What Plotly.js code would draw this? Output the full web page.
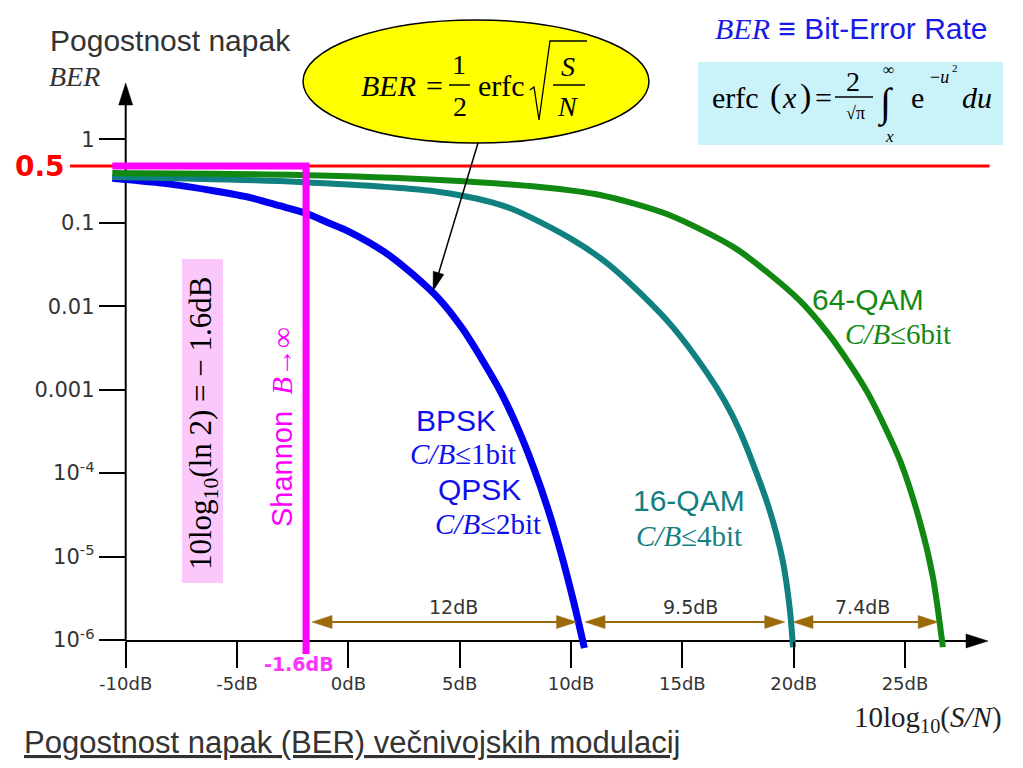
<!DOCTYPE html>
<html><head><meta charset="utf-8">
<script src="https://cdn.plot.ly/plotly-3.0.1.min.js"></script>
<style>html,body{margin:0;padding:0;background:#fff;}#chart{width:1023px;height:768px;}</style>
</head><body><div id="chart"></div>
<script>
// ---------------- data ----------------
const bpskDb   = [-10.6, -8.0, -6.0, -4.4, -3.1, -1.9, -0.9, 0.0, 1.6, 2.9, 4.1, 5.1, 6.0, 6.85, 7.6, 8.3, 8.95, 9.55, 10.1, 10.6];
const bpskBer  = [0.34, 0.29, 0.24, 0.20, 0.16, 0.13, 0.10, 0.079, 0.045, 0.024, 0.012, 0.0055, 0.0023, 9.3e-4, 3.5e-4, 1.2e-4, 3.8e-5, 1.1e-5, 3.0e-6, 8.0e-7];
const qam16Db  = [-10.6, -2.2, 4.1, 7.1, 10.1, 11.6, 13.1, 14.6, 16.1, 16.9, 17.6, 18.85, 19.5, 19.83, 19.97];
const qam16Ber = [0.353, 0.308, 0.234, 0.155, 0.062, 0.033, 0.0144, 5.5e-3, 1.6e-3, 7.3e-4, 3.1e-4, 4.1e-5, 9.1e-6, 2.3e-6, 8.2e-7];
const qam64Db  = [-10.6, -2.2, 4.1, 8.6, 11.3, 14.3, 17.3, 18.8, 20.3, 21.5, 22.4, 23.3, 24.05, 24.8, 25.67, 26.25, 26.7];
const qam64Ber = [0.394, 0.373, 0.325, 0.268, 0.215, 0.127, 0.051, 0.0257, 0.0115, 4.9e-3, 2.26e-3, 9.4e-4, 3.8e-4, 1.36e-4, 2.6e-5, 5.7e-6, 8.2e-7];
const shannonDb  = [-10.6, -1.9, -1.9];
const shannonBer = [0.48, 0.48, 6.8e-7];
const halfDb  = [-12.5, 28.8];
const halfBer = [0.48, 0.48];
const xTickVals = [-10, -5, 0, 5, 10, 15, 20, 25];
const xTickText = ['-10dB', '-5dB', '0dB', '5dB', '10dB', '15dB', '20dB', '25dB'];
const yTickVals = [1, 0.1, 0.01, 0.001, 1e-4, 1e-5, 1e-6];
const yTickText = ['1', '0.1', '0.01', '0.001', '10<sup>-4</sup>', '10<sup>-5</sup>', '10<sup>-6</sup>'];
const gapFromDb  = [-1.63, 10.63, 19.97];
const gapToDb    = [10.25, 19.6, 26.49];
const gapLabels  = ['12dB', '9.5dB', '7.4dB'];
const gapLabelDb = [4.7, 15.35, 23.1];

// ---------------- layout helpers ----------------
const W = 1023, H = 768;
const xRange = [-15.645, 30.299];
const yRange = [-7.534, 1.669];
const dbPerPx = (xRange[1] - xRange[0]) / W;
const X = p => p / W, Y = p => 1 - p / H;
const SANS = 'Liberation Sans, Arial, sans-serif';
const SERIF = 'Liberation Serif, Times New Roman, serif';
const DJ = 'DejaVu Sans, sans-serif';

function tri(tip, dir, len, hw) {
  const n = Math.hypot(dir[0], dir[1]), ux = dir[0] / n, uy = dir[1] / n;
  const bx = tip[0] - ux * len, by = tip[1] - uy * len;
  const qx = -uy * hw, qy = ux * hw;
  return `M${X(tip[0])},${Y(tip[1])} L${X(bx + qx)},${Y(by + qy)} L${X(bx - qx)},${Y(by - qy)} Z`;
}
function pathShape(path, color) {
  return {type: 'path', xref: 'paper', yref: 'paper', path: path, fillcolor: color, line: {color: color, width: 0.5}};
}
function lineShape(x0, y0, x1, y1, color, w, layer) {
  return {type: 'line', xref: 'paper', yref: 'paper', x0: X(x0), y0: Y(y0), x1: X(x1), y1: Y(y1), line: {color: color, width: w}, layer: layer || 'above'};
}
function txt(text, x, y, size, color, family, o) {
  o = o || {};
  return Object.assign({text: text, xref: 'paper', yref: 'paper', x: X(x), y: Y(y), showarrow: false,
    xanchor: 'center', yanchor: 'middle', font: {family: family, size: size, color: color}}, o);
}

// ---------------- traces ----------------
const traces = [
  {x: halfDb, y: halfBer, mode: 'lines', line: {color: '#ff0000', width: 3}, hoverinfo: 'skip'},
  {x: bpskDb, y: bpskBer, mode: 'lines', line: {color: '#0000f0', width: 7, shape: 'spline', smoothing: 0.8}, name: 'BPSK/QPSK'},
  {x: qam16Db, y: qam16Ber, mode: 'lines', line: {color: '#108080', width: 6, shape: 'spline', smoothing: 0.8}, name: '16-QAM'},
  {x: qam64Db, y: qam64Ber, mode: 'lines', line: {color: '#118811', width: 6, shape: 'spline', smoothing: 0.8}, name: '64-QAM'},
  {x: shannonDb, y: shannonBer, mode: 'lines', line: {color: '#ff00ff', width: 7}, name: 'Shannon'}
];

// ---------------- shapes ----------------
const shapes = [];
shapes.push(lineShape(125.7, 641, 125.7, 100, '#000', 2, 'below'));
shapes.push(pathShape(tri([125.7, 83], [0, -1], 22, 7), '#000'));
shapes.push(lineShape(125.7, 641, 970, 641, '#000', 2, 'below'));
shapes.push(pathShape(tri([988, 641], [1, 0], 22, 7), '#000'));
shapes.push({type: 'rect', xref: 'paper', yref: 'paper', x0: X(698), x1: X(1003), y0: Y(145), y1: Y(62), fillcolor: '#c9f2f9', line: {width: 0}});
shapes.push({type: 'rect', xref: 'paper', yref: 'paper', x0: X(182), x1: X(223), y0: Y(583), y1: Y(259), fillcolor: '#fbc8fb', line: {width: 0}});
shapes.push({type: 'circle', xref: 'paper', yref: 'paper', x0: X(303), x1: X(649), y0: Y(143), y1: Y(20), fillcolor: '#ffff00', line: {color: '#000', width: 1.5}});
shapes.push(lineShape(478, 143, 436, 282, '#000', 1.5));
shapes.push(pathShape(tri([433, 291], [-45, 148], 19, 5.5), '#000'));
shapes.push(lineShape(449, 85, 470, 85, '#000', 1.5));
shapes.push(lineShape(553, 85, 585, 85, '#000', 1.5));
shapes.push({type: 'path', xref: 'paper', yref: 'paper', path: `M${X(530)},${Y(90)} L${X(534)},${Y(87)} L${X(539)},${Y(120)} L${X(550)},${Y(41)} L${X(587)},${Y(41)}`, line: {color: '#000', width: 1.3}});
shapes.push(lineShape(835, 97, 873, 97, '#000', 1.5));
const gapY = Y(622), headLen = 20 * dbPerPx, headHalf = 6.5 / H;
for (let i = 0; i < gapFromDb.length; i++) {
  const a = gapFromDb[i], b = gapToDb[i];
  shapes.push({type: 'line', xref: 'x', yref: 'paper', x0: a + headLen * 0.5, x1: b - headLen * 0.5, y0: gapY, y1: gapY, line: {color: '#9b6b0a', width: 2}});
  shapes.push({type: 'path', xref: 'x', yref: 'paper', path: `M${a},${gapY} L${a + headLen},${gapY + headHalf} L${a + headLen},${gapY - headHalf} Z`, fillcolor: '#9b6b0a', line: {color: '#9b6b0a', width: 0.5}});
  shapes.push({type: 'path', xref: 'x', yref: 'paper', path: `M${b},${gapY} L${b - headLen},${gapY + headHalf} L${b - headLen},${gapY - headHalf} Z`, fillcolor: '#9b6b0a', line: {color: '#9b6b0a', width: 0.5}});
}

// ---------------- annotations ----------------
const ann = [];
ann.push(txt('Pogostnost napak', 48, 41, 30, '#333', SANS, {xanchor: 'left'}));
ann.push(txt('<i>BER</i>', 47, 76, 28, '#333', SERIF, {xanchor: 'left'}));
ann.push(txt('<span style="font-family:Liberation Serif"><i>BER</i></span> ≡ Bit-Error Rate', 713, 29, 30, '#1a1ae6', SANS, {xanchor: 'left'}));
ann.push(txt('erfc', 735, 97, 30, '#000', SERIF));
ann.push(txt('(', 775, 96, 34, '#000', SERIF));
ann.push(txt('<i>x</i>', 789, 98, 30, '#000', SERIF));
ann.push(txt(')', 805, 96, 34, '#000', SERIF));
ann.push(txt('=', 823, 97, 30, '#000', SERIF));
ann.push(txt('2', 853, 81, 28, '#000', SERIF));
ann.push(txt('√π', 855, 113, 18, '#000', SERIF));
ann.push(txt('∫', 885, 104, 40, '#000', SERIF));
ann.push(txt('∞', 888, 69, 16, '#000', SERIF));
ann.push(txt('<i>x</i>', 889, 137, 17, '#000', SERIF));
ann.push(txt('e', 917, 98, 30, '#000', SERIF));
ann.push(txt('−<i>u</i>', 939, 77, 18, '#000', SERIF));
ann.push(txt('2', 955, 68, 11, '#000', SERIF));
ann.push(txt('<i>du</i>', 977, 97, 30, '#000', SERIF));
ann.push(txt('<i>BER</i>', 388, 85, 30, '#000', SERIF));
ann.push(txt('=', 434, 85, 30, '#000', SERIF));
ann.push(txt('1', 459, 65, 28, '#000', SERIF));
ann.push(txt('2', 460, 106, 28, '#000', SERIF));
ann.push(txt('erfc', 501, 86, 30, '#000', SERIF));
ann.push(txt('<i>S</i>', 568, 66, 28, '#000', SERIF));
ann.push(txt('<i>N</i>', 567, 107, 28, '#000', SERIF));
ann.push(txt('10log<sub>10</sub>(ln 2) = − 1.6dB', 203, 424, 31, '#000', SERIF, {textangle: -90}));
ann.push(txt('Shannon  <span style="font-family:Liberation Serif"><i>B</i>→∞</span>', 282, 427, 29, '#ff00ff', SANS, {textangle: -90}));
ann.push(txt('BPSK', 456, 420, 30, '#1010ee', SANS));
ann.push(txt('<i>C/B</i>≤1bit', 463, 454, 29, '#1010ee', SERIF));
ann.push(txt('QPSK', 479, 489, 30, '#1010ee', SANS));
ann.push(txt('<i>C/B</i>≤2bit', 488, 524, 29, '#1010ee', SERIF));
ann.push(txt('16-QAM', 689, 500, 30, '#137f7f', SANS));
ann.push(txt('<i>C/B</i>≤4bit', 689, 536, 29, '#137f7f', SERIF));
ann.push(txt('64-QAM', 868, 299, 30, '#138a13', SANS));
ann.push(txt('<i>C/B</i>≤6bit', 898, 334, 29, '#138a13', SERIF));
ann.push(txt('<b>0.5</b>', 40, 167, 28, '#ff0000', DJ));
ann.push(txt('<b>-1.6dB</b>', 299, 664, 19, '#ff33ff', DJ));
for (let i = 0; i < gapLabels.length; i++) {
  ann.push({text: gapLabels[i], xref: 'x', yref: 'paper', x: gapLabelDb[i], y: Y(607), showarrow: false,
    xanchor: 'center', yanchor: 'middle', font: {family: DJ, size: 19, color: '#333'}});
}
ann.push(txt('10log<sub>10</sub>(<i>S/N</i>)', 928, 719, 29, '#222', SERIF));
ann.push(txt('<u>Pogostnost napak (BER) večnivojskih modulacij</u>', 22, 742, 31, '#333', SANS, {xanchor: 'left'}));

const layout = {
  width: W, height: H, margin: {l: 0, r: 0, t: 0, b: 0, pad: 0},
  paper_bgcolor: '#fff', plot_bgcolor: 'rgba(0,0,0,0)', showlegend: false,
  xaxis: {range: xRange, domain: [0, 1], anchor: 'free', position: Y(641), showline: false, showgrid: false, zeroline: false,
    ticks: 'outside', ticklen: 26, tickwidth: 2, tickcolor: '#000', tickmode: 'array', tickvals: xTickVals, ticktext: xTickText,
    tickfont: {family: DJ, size: 18, color: '#333'}, fixedrange: true, automargin: false},
  yaxis: {type: 'log', range: yRange, domain: [0, 1], anchor: 'free', position: X(125.7), showline: false, showgrid: false, zeroline: false,
    ticks: 'outside', ticklen: 27, tickwidth: 2, tickcolor: '#000', tickmode: 'array', tickvals: yTickVals, ticktext: yTickText,
    tickfont: {family: DJ, size: 21, color: '#333'}, fixedrange: true, automargin: false},
  shapes: shapes, annotations: ann
};
Plotly.newPlot('chart', traces, layout, {staticPlot: true, displayModeBar: false});
</script></body></html>
